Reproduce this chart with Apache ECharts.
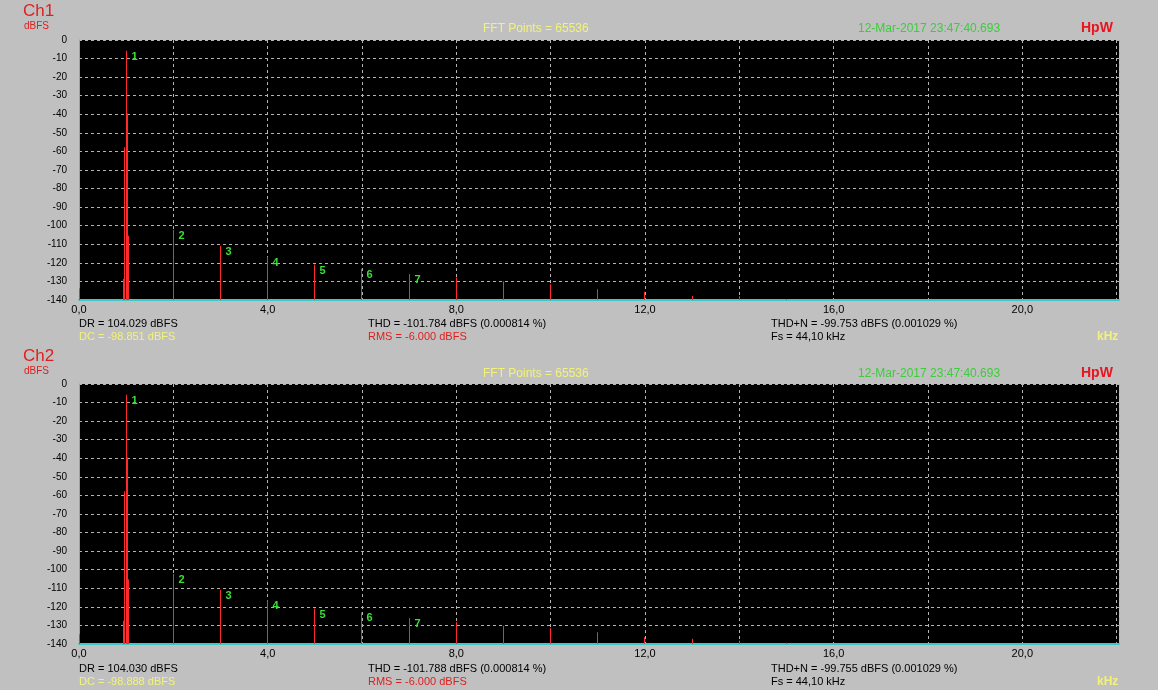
<!DOCTYPE html>
<html>
<head>
<meta charset="utf-8">
<script src="https://cdn.jsdelivr.net/npm/echarts@6/dist/echarts.min.js"></script>
<style>
html,body{margin:0;padding:0;background:#c0c0c0;}
#chart{width:1158px;height:690px;}
</style>
</head>
<body>
<div id="chart"></div>
<script>
// ---- data (kHz, dBFS) ----
const harmonicFreqsKHz = [1, 2, 3, 4, 5, 6, 7, 8, 9, 10, 11, 12, 13, 14, 15];
const ch1HarmonicDb = [-5.8, -102.2, -110.9, -116.7, -120.9, -123.2, -126.1, -127.9, -130.0, -131.5, -134.2, -135.6, -137.8, -138.0, -139.5];
const ch2HarmonicDb = [-5.8, -102.3, -110.9, -116.4, -120.9, -123.0, -126.1, -128.2, -130.2, -131.4, -133.7, -136.3, -137.2, -138.2, -139.3];
const harmonicLabels = ['1', '2', '3', '4', '5', '6', '7'];
const skirtFreqsKHz = [0.954, 0.970, 1.019, 1.040];
const ch1SkirtDb = [-128.6, -57.8, -39.5, -105.4];
const ch2SkirtDb = [-127.5, -57.8, -39.5, -105.2];
const dcFreqKHz = 0.02;
const ch1DcDb = -133.7;
const ch2DcDb = -134.8;
const xTickLabels = ['0,0', '4,0', '8,0', '12,0', '16,0', '20,0'];
const yMin = -140, yMax = 0, yStep = 10;
const xMax = 22.05, xStep = 2;

const ch1Info = {ch: 'Ch1', dr: 'DR = 104.029 dBFS', dc: 'DC = -98.851 dBFS', thd: 'THD = -101.784 dBFS (0.000814 %)', rms: 'RMS = -6.000 dBFS', thdn: 'THD+N = -99.753 dBFS (0.001029 %)', fs: 'Fs = 44,10 kHz'};
const ch2Info = {ch: 'Ch2', dr: 'DR = 104.030 dBFS', dc: 'DC = -98.888 dBFS', thd: 'THD = -101.788 dBFS (0.000814 %)', rms: 'RMS = -6.000 dBFS', thdn: 'THD+N = -99.755 dBFS (0.001029 %)', fs: 'Fs = 44,10 kHz'};
const fftText = 'FFT Points = 65536';
const dateText = '12-Mar-2017 23:47:40.693';

function buildData(harm, skirt, dc) {
  const d = [[dcFreqKHz, dc, 0]];
  skirtFreqsKHz.forEach((f, i) => d.push([f, skirt[i], 0]));
  harmonicFreqsKHz.forEach((f, i) => d.push([f, harm[i], i < harmonicLabels.length ? Number(harmonicLabels[i]) : 0]));
  return d;
}

const FONT = 'Arial, "Liberation Sans", sans-serif';
const RED = '#e01e1e', SPIKE = '#ff2a2a', YEL = '#f2f27a', GRN = '#3ccc3c', CYAN = '#40c8c8';

function renderSpike(params, api) {
  const f = api.value(0), db = api.value(1), n = api.value(2);
  const top = api.coord([f, db]);
  const bot = api.coord([f, yMin]);
  const x = Math.floor(top[0]) + 0.5;
  const ch = [{type: 'line', z2: 10, shape: {x1: x, y1: top[1], x2: x, y2: bot[1]}, style: {stroke: SPIKE, lineWidth: 1}}];
  if (n) ch.push({type: 'text', z2: 11, x: x + 5, y: top[1] + 6, style: {text: String(n), fill: '#38e038', font: 'bold 11px ' + FONT, align: 'left', verticalAlign: 'middle'}});
  return {type: 'group', children: ch};
}

const grids = [{left: 79, right: 39, top: 40, height: 260}, {left: 79, right: 39, top: 384, height: 260}];

function xAxis(i) {
  return {
    type: 'value', gridIndex: i, min: 0, max: xMax, interval: xStep,
    axisLine: {show: true, onZero: false, lineStyle: {color: CYAN, width: 2}},
    axisTick: {show: false},
    axisLabel: {show: true, color: '#000', fontSize: 11, fontFamily: FONT, margin: 4, showMaxLabel: false,
      formatter: v => (Math.round(v) % 4 === 0 ? xTickLabels[Math.round(v) / 4] || '' : '')},
    splitLine: {show: true, lineStyle: {color: '#b4b4b4', width: 1, type: [3, 3]}}
  };
}
function yAxis(i) {
  return {
    type: 'value', gridIndex: i, min: yMin, max: yMax, interval: yStep,
    axisLine: {show: true, onZero: false, lineStyle: {color: CYAN, width: 1}},
    axisTick: {show: false},
    axisLabel: {color: '#000', fontSize: 10, fontFamily: FONT, margin: 12},
    splitLine: {show: true, lineStyle: {color: '#b4b4b4', width: 1, type: [3, 3]}}
  };
}

function txt(text, x, y, color, size, bold) {
  return {type: 'text', x: x, y: y, silent: true,
    style: {text: text, fill: color, font: (bold ? 'bold ' : '') + size + 'px ' + FONT, align: 'left', verticalAlign: 'middle'}};
}
function panelTexts(info, dy) {
  return [
    txt(info.ch, 23, 11 + dy, RED, 17),
    txt('dBFS', 24, 26 + dy, RED, 10),
    txt(fftText, 483, 29 + dy, YEL, 12),
    txt(dateText, 858, 29 + dy, GRN, 12),
    txt('HpW', 1081, 28 + dy, '#e8141e', 14, true),
    txt(info.dr, 79, 324 + dy, '#000', 11),
    txt(info.dc, 79, 337 + dy, YEL, 11),
    txt(info.thd, 368, 324 + dy, '#000', 11),
    txt(info.rms, 368, 337 + dy, RED, 11),
    txt(info.thdn, 771, 324 + dy, '#000', 11),
    txt(info.fs, 771, 337 + dy, '#000', 11),
    txt('kHz', 1097, 337 + dy, YEL, 12, true)
  ];
}

const chart = echarts.init(document.getElementById('chart'), null, {renderer: 'canvas'});
chart.setOption({
  animation: false,
  backgroundColor: '#c0c0c0',
  grid: grids.map(g => Object.assign({show: true, backgroundColor: '#000', borderWidth: 0}, g)),
  xAxis: [xAxis(0), xAxis(1)],
  yAxis: [yAxis(0), yAxis(1)],
  series: [
    {type: 'custom', z: 10, xAxisIndex: 0, yAxisIndex: 0, renderItem: renderSpike, clip: true,
     data: buildData(ch1HarmonicDb, ch1SkirtDb, ch1DcDb), encode: {x: 0, y: 1}},
    {type: 'custom', z: 10, xAxisIndex: 1, yAxisIndex: 1, renderItem: renderSpike, clip: true,
     data: buildData(ch2HarmonicDb, ch2SkirtDb, ch2DcDb), encode: {x: 0, y: 1}}
  ],
  graphic: panelTexts(ch1Info, 0).concat(panelTexts(ch2Info, 345))
});
</script>
</body>
</html>
